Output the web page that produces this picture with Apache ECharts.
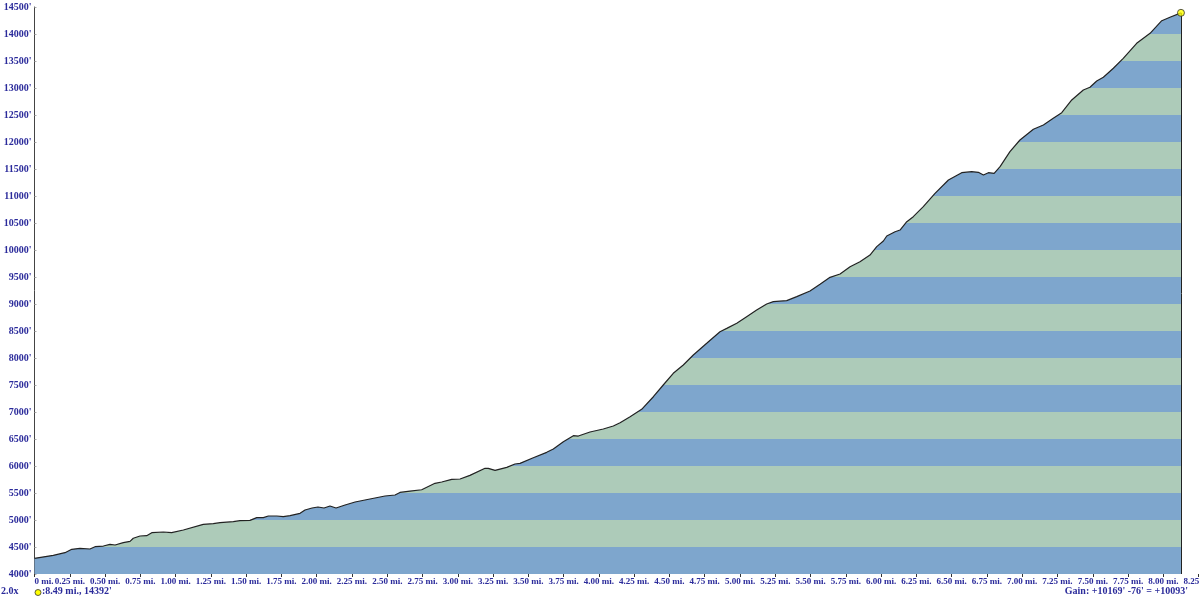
<!DOCTYPE html>
<html>
<head>
<meta charset="utf-8">
<script src="https://cdn.jsdelivr.net/npm/echarts@6/dist/echarts.min.js"></script>
<style>
html,body{margin:0;padding:0;background:#fff;}
#c{width:1200px;height:600px;}
</style>
</head>
<body>
<div id="c"></div>
<script>
// Distance along the profile (axis miles) and elevation (feet)
const distance = [0,0.133,0.216,0.264,0.322,0.393,0.429,0.488,0.535,0.571,0.629,0.677,0.700,0.748,0.795,0.831,0.913,0.972,1.055,1.196,1.267,1.315,1.409,1.456,1.527,1.575,1.622,1.657,1.717,1.763,1.811,1.882,1.917,1.967,2.009,2.052,2.094,2.137,2.201,2.272,2.342,2.413,2.484,2.555,2.590,2.661,2.744,2.838,2.886,2.957,3.016,3.086,3.193,3.216,3.264,3.347,3.405,3.441,3.535,3.630,3.677,3.748,3.819,3.854,3.937,4.031,4.102,4.150,4.221,4.303,4.386,4.456,4.527,4.598,4.669,4.764,4.858,4.906,4.977,5.047,5.118,5.189,5.236,5.331,5.402,5.496,5.567,5.638,5.709,5.780,5.850,5.921,5.969,6.016,6.040,6.099,6.134,6.182,6.228,6.299,6.382,6.477,6.571,6.642,6.689,6.725,6.760,6.801,6.843,6.913,6.984,7.079,7.150,7.220,7.280,7.351,7.433,7.480,7.528,7.575,7.646,7.716,7.811,7.906,7.989,8.047,8.125];
const elevation = [4290,4346,4395,4457,4475,4463,4506,4518,4549,4537,4580,4605,4661,4704,4710,4765,4778,4765,4815,4920,4932,4950,4969,4987,4994,5043,5043,5074,5074,5061,5080,5124,5185,5222,5241,5222,5259,5222,5278,5333,5370,5407,5444,5463,5510,5535,5560,5679,5704,5753,5759,5827,5957,5957,5920,5975,6037,6049,6154,6253,6315,6450,6561,6555,6630,6685,6741,6802,6913,7050,7283,7500,7716,7870,8056,8272,8487,8549,8642,8765,8889,9000,9043,9062,9136,9241,9364,9494,9556,9691,9784,9907,10062,10167,10259,10339,10370,10524,10617,10802,11049,11296,11432,11451,11439,11389,11432,11420,11543,11821,12037,12235,12315,12438,12543,12778,12963,13013,13130,13198,13365,13550,13828,14012,14246,14309,14392];

// Axis ticks
const yMin = 4000, yMax = 14500, yStep = 500;
const xMin = 0, xMax = 8.25, xStep = 0.25;

// Summary texts
const zoomText = '2.0x';
const summaryDistance = 8.49;
const summaryElevation = 14392;
const gainUp = 10169, gainDown = 76, gainNet = 10093;

const bandColors = ['#7ea6cd', '#adcbb9'];
const labelColor = '#2b2b9b';
const fontFam = '"Liberation Serif", "DejaVu Serif", serif';

const pts = distance.map((d, i) => [d, elevation[i]]);
const last = pts[pts.length - 1];

const pieces = [];
for (let k = yMin, i = 0; k < yMax; k += yStep, i++) {
  pieces.push({ gte: k, lt: k + yStep, color: bandColors[i % 2] });
}

const chart = echarts.init(document.getElementById('c'), null, { renderer: 'canvas' });
chart.setOption({
  animation: false,
  backgroundColor: '#fff',
  grid: { left: 34.5, right: 1.4, top: 7, bottom: 26, containLabel: false, outerBoundsMode: 'none' },
  xAxis: {
    type: 'value', min: xMin, max: xMax, interval: xStep,
    splitLine: { show: false },
    axisLine: { show: false },
    axisTick: { show: true, length: 3, lineStyle: { color: '#333' } },
    axisLabel: {
      color: labelColor, fontFamily: fontFam, fontSize: 9, fontWeight: 'bold',
      margin: 3, showMinLabel: true, showMaxLabel: true, hideOverlap: false,
      alignMinLabel: 'left',
      formatter: v => (v === 0 ? '0' : v.toFixed(2)) + ' mi.'
    }
  },
  yAxis: {
    type: 'value', min: yMin, max: yMax, interval: yStep,
    splitLine: { show: false },
    axisLine: { show: true, lineStyle: { color: '#444', width: 1 } },
    axisTick: { show: true, inside: true, length: 2, lineStyle: { color: '#aaa' } },
    axisLabel: {
      color: labelColor, fontFamily: fontFam, fontSize: 10, fontWeight: 'bold',
      margin: 3, formatter: v => v + "'"
    }
  },
  visualMap: {
    show: false, type: 'piecewise', dimension: 1, seriesIndex: 0,
    pieces: pieces
  },
  series: [
    {
      type: 'line', data: pts, symbol: 'none', silent: true,
      lineStyle: { width: 0, opacity: 0 },
      areaStyle: { opacity: 1 },
      z: 1
    },
    {
      type: 'line', data: pts, symbol: 'none', silent: true,
      lineStyle: { color: '#222', width: 1.2 },
      z: 3,
      markLine: {
        silent: true, symbol: 'none', label: { show: false },
        lineStyle: { color: '#222', width: 1, type: 'solid' },
        data: [[{ coord: [last[0], yMin] }, { coord: [last[0], last[1]] }]]
      }
    },
    {
      type: 'scatter', data: [last], symbol: 'circle', symbolSize: 7,
      itemStyle: { color: '#ffff00', borderColor: '#333', borderWidth: 1 },
      z: 5, silent: true
    }
  ],
  graphic: [
    { type: 'text', left: 1, top: 586,
      style: { text: zoomText, fill: labelColor, font: 'bold 10px ' + fontFam } },
    { type: 'circle', shape: { cx: 38, cy: 592.5, r: 3 },
      style: { fill: '#ffff00', stroke: '#333', lineWidth: 0.8 } },
    { type: 'text', left: 42, top: 586,
      style: { text: ':' + summaryDistance + ' mi., ' + summaryElevation + "'", fill: labelColor, font: 'bold 10px ' + fontFam } },
    { type: 'text', right: 12, top: 586,
      style: { text: 'Gain: +' + gainUp + "' -" + gainDown + "' = +" + gainNet + "'", fill: labelColor, font: 'bold 10px ' + fontFam } }
  ]
});
</script>
</body>
</html>
